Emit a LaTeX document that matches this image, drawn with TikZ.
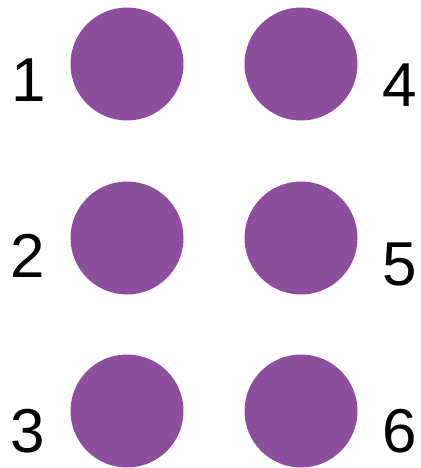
\documentclass[tikz,border=0pt]{standalone}
\usepackage{fontspec}
\setmainfont{Liberation Sans}
\definecolor{dotpurple}{RGB}{142,78,158}

\begin{document}
\begin{tikzpicture}[x=1pt, y=-1pt,
  dot/.style={circle, fill=dotpurple, minimum size=113pt, inner sep=0pt},
  num/.style={inner sep=0pt, font=\fontsize{62}{62}\selectfont}]

  \useasboundingbox (0,0) rectangle (420,468);

  % the six dots of the cell
  \node[dot] (D1) at (127,64)  {};
  \node[dot] (D2) at (127,238) {};
  \node[dot] (D3) at (127,411) {};
  \node[dot] (D4) at (301,64)  {};
  \node[dot] (D5) at (301,238) {};
  \node[dot] (D6) at (301,411) {};

  % their numbers
  \node[num] (N1) at (29,80)  {1};
  \node[num] (N2) at (28,256) {2};
  \node[num] (N3) at (28,431) {3};
  \node[num] (N4) at (400,85)  {4};
  \node[num] (N5) at (400,264) {5};
  \node[num] (N6) at (400,431) {6};

\end{tikzpicture}
\end{document}
